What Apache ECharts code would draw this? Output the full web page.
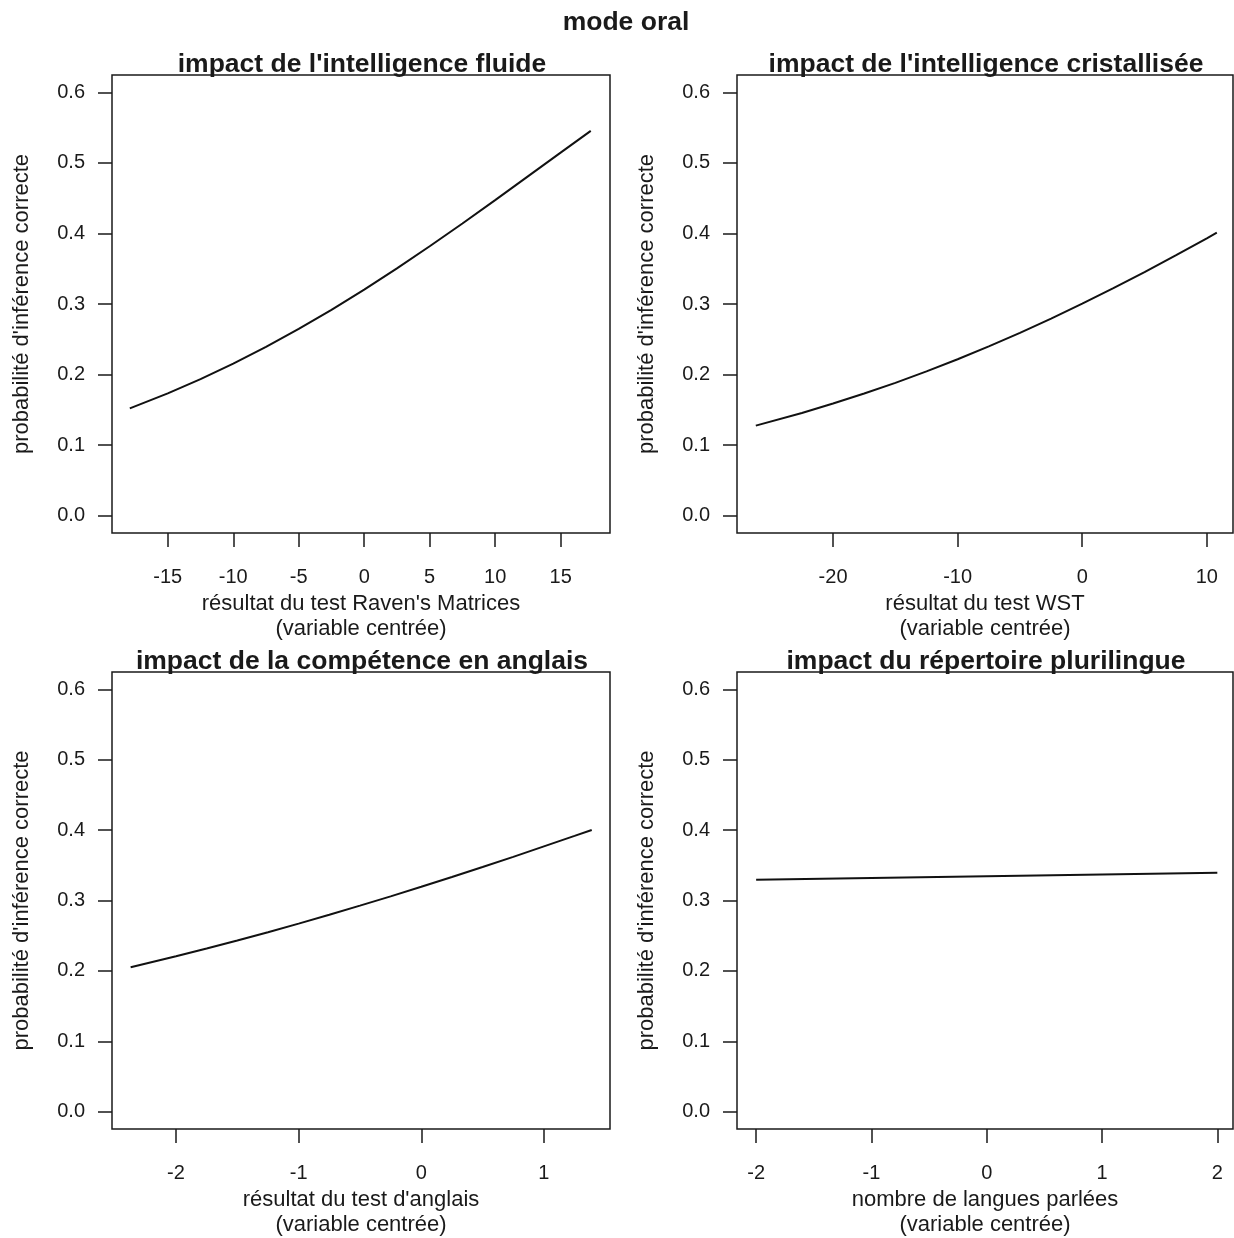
<!DOCTYPE html>
<html>
<head>
<meta charset="utf-8">
<script src="https://cdn.jsdelivr.net/npm/echarts@6/dist/echarts.min.js"></script>
<style>
html,body{margin:0;padding:0;background:#fff;}
#chart{width:1234px;height:1238px;}
</style>
</head>
<body>
<div id="chart"></div>
<script>
// ---- data ----
const mainTitle = "mode oral";
const panelTitles = [
  "impact de l'intelligence fluide",
  "impact de l'intelligence cristallisée",
  "impact de la compétence en anglais",
  "impact du répertoire plurilingue"
];
const xNames = [
  "résultat du test Raven's Matrices\n(variable centrée)",
  "résultat du test WST\n(variable centrée)",
  "résultat du test d'anglais\n(variable centrée)",
  "nombre de langues parlées\n(variable centrée)"
];
const yName = "probabilité d'inférence correcte";

const xFluide = [-17.9, -15, -12.5, -10, -7.5, -5, -2.5, 0, 2.5, 5, 7.5, 10, 12.5, 15, 17.3];
const pFluide = [0.152, 0.1734, 0.1936, 0.2155, 0.2392, 0.2646, 0.2917, 0.3204, 0.3505, 0.3818, 0.4141, 0.4472, 0.4808, 0.5145, 0.5454];

const xCristal = [-26.2, -22.5, -20, -17.5, -15, -12.5, -10, -7.5, -5, -2.5, 0, 2.5, 5, 7.5, 10, 10.8];
const pCristal = [0.1277, 0.1456, 0.1589, 0.1731, 0.1883, 0.2045, 0.2217, 0.2399, 0.2591, 0.2793, 0.3004, 0.3225, 0.3453, 0.3689, 0.3931, 0.4010];

const xAnglais = [-2.37, -2, -1.75, -1.5, -1.25, -1, -0.75, -0.5, -0.25, 0, 0.25, 0.5, 0.75, 1, 1.25, 1.39];
const pAnglais = [0.2051, 0.2207, 0.2318, 0.2432, 0.2550, 0.2672, 0.2798, 0.2927, 0.3059, 0.3195, 0.3334, 0.3476, 0.3620, 0.3768, 0.3917, 0.4002];

const xLangues = [-2, -1, 0, 1, 2];
const pLangues = [0.3295, 0.332, 0.3345, 0.337, 0.3395];

const ticksFluide = [-15, -10, -5, 0, 5, 10, 15];
const ticksCristal = [-20, -10, 0, 10];
const ticksAnglais = [-2, -1, 0, 1];
const ticksLangues = [-2, -1, 0, 1, 2];
const yTicks = [0, 0.1, 0.2, 0.3, 0.4, 0.5, 0.6];

// ---- chart ----
const FONT = "'Liberation Sans', Arial, sans-serif";
const INK = '#1a1a1a';
const xs = [xFluide, xCristal, xAnglais, xLangues];
const ps = [pFluide, pCristal, pAnglais, pLangues];
const xt = [ticksFluide, ticksCristal, ticksAnglais, ticksLangues];
const xRanges = [[-19.26, 18.77], [-27.71, 12.1], [-2.522, 1.539], [-2.166, 2.136]];
const grids = [
  {left: 112, top: 75, width: 498, height: 458},
  {left: 737, top: 75, width: 496, height: 458},
  {left: 112, top: 672, width: 498, height: 458},
  {left: 737, top: 672, width: 496, height: 458}
];

const option = {
  backgroundColor: '#fff',
  animation: false,
  title: [
    {text: mainTitle, left: 621, top: 4, textAlign: 'center',
     textStyle: {fontFamily: FONT, fontSize: 26.5, fontWeight: 'bold', color: INK}}
  ].concat(panelTitles.map((t, i) => ({
    text: t,
    left: grids[i].left + grids[i].width / 2 - 4,
    top: grids[i].top - 29,
    textAlign: 'center',
    textStyle: {fontFamily: FONT, fontSize: 26.5, fontWeight: 'bold', color: INK}
  }))),
  grid: grids.map(g => Object.assign({show: true, borderColor: INK, borderWidth: 1.5, backgroundColor: 'transparent', containLabel: false}, g)),
  xAxis: xs.map((_, i) => ({
    type: 'value', gridIndex: i, position: 'bottom', min: xRanges[i][0], max: xRanges[i][1],
    axisLine: {show: false, onZero: false},
    splitLine: {show: false},
    axisTick: {show: true, length: 14, lineStyle: {color: INK, width: 1.5}, customValues: xt[i]},
    axisLabel: {customValues: xt[i], margin: 34, fontFamily: FONT, fontSize: 20, color: INK,
                formatter: v => String(v)},
    name: xNames[i], nameLocation: 'middle', nameGap: 58,
    nameTextStyle: {fontFamily: FONT, fontSize: 22, color: INK, lineHeight: 25}
  })),
  yAxis: xs.map((_, i) => ({
    type: 'value', gridIndex: i, position: 'left', min: -0.0245, max: 0.6245,
    axisLine: {show: false, onZero: false},
    splitLine: {show: false},
    axisTick: {show: true, length: 14, lineStyle: {color: INK, width: 1.5}, customValues: yTicks},
    axisLabel: {customValues: yTicks, margin: 27, fontFamily: FONT, fontSize: 20, color: INK,
                formatter: v => v.toFixed(1)},
    name: yName, nameLocation: 'middle', nameGap: 79,
    nameTextStyle: {fontFamily: FONT, fontSize: 22, color: INK}
  })),
  series: xs.map((x, i) => ({
    type: 'line', xAxisIndex: i, yAxisIndex: i,
    data: x.map((v, k) => [v, ps[i][k]]),
    showSymbol: false, smooth: false,
    lineStyle: {color: '#111', width: 2},
    silent: true
  }))
};

const chart = echarts.init(document.getElementById('chart'), null, {renderer: 'canvas'});
chart.setOption(option);
</script>
</body>
</html>
